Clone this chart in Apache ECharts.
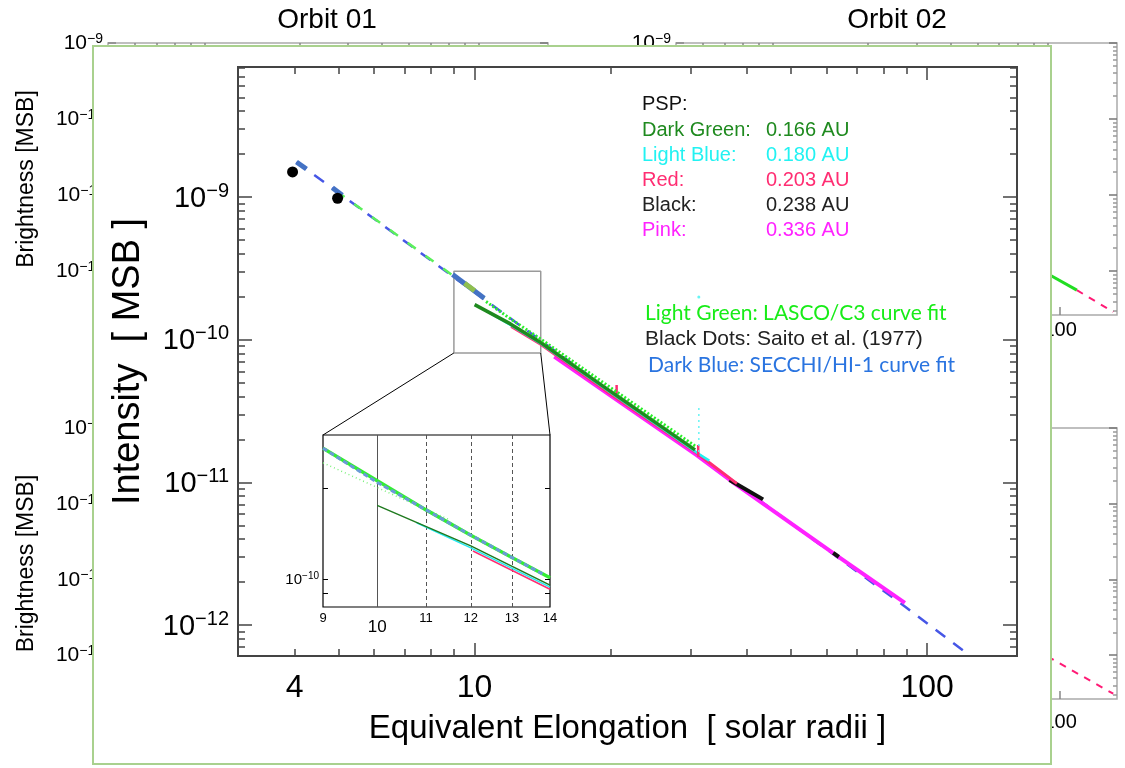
<!DOCTYPE html>
<html><head><meta charset="utf-8">
<script src="https://cdn.jsdelivr.net/npm/echarts@6/dist/echarts.min.js"></script>
<style>html,body{margin:0;padding:0;background:#fff}#c{width:1125px;height:768px}</style>
</head><body><div id="c"></div>
<script>
// ---------------- DATA ----------------
const mainXLabels = [4, 10, 100];
const mainXMajor = [10, 100];
const mainYLabels = [1e-9, 1e-10, 1e-11, 1e-12];
const insetXLabels = [9, 10, 11, 12, 13, 14];
const insetYLabels = [1e-10];
const insetYTicks = [9e-11, 1e-10, 2e-10];
const insetGuideX = [10, 11, 12, 13];
const insetXRange = [9, 14];
const insetYRange = [8.07e-11, 3.02e-10];
const bgXLabels = [100];
const bgYLabels = [1e-9, 1e-10, 1e-11, 1e-12];

const saitoDots   = [[3.96, 1.50e-9], [4.98, 0.98e-9]];
const secchiFit   = [[4.04, 1.76e-9], [10.0, 2.15e-10], [89.3, 1.35e-12], [124.5, 6.1e-13]];
const secchiBold1 = [[4.04, 1.76e-9], [4.25, 1.57e-9]];
const secchiBold2 = [[4.85, 1.16e-9], [5.1, 1.03e-9]];
const secchiBold3 = [[8.94, 2.86e-10], [10.5, 1.95e-10]];
const secchiOlive = [[9.5, 2.49e-10], [10.0, 2.2e-10]];
const lascoFit    = [[4.75, 1.21e-9], [10.5, 1.95e-10]];
const lascoData   = [[10.6, 1.85e-10], [12, 1.40e-10], [14, 1.01e-10], [20, 4.6e-11], [30.7, 1.8e-11]];
const psp0166 = [[10.0, 1.76e-10], [12, 1.29e-10], [14, 9.55e-11], [20, 4.33e-11], [30.7, 1.69e-11]];
const psp0180 = [[10.8, 1.54e-10], [12, 1.27e-10], [14, 9.4e-11], [20, 4.25e-11], [31.3, 1.58e-11], [33, 1.42e-11]];
const psp0203 = [[12.05, 1.24e-10], [14, 9.3e-11], [20, 4.15e-11], [31, 1.6e-11], [38, 9.8e-12]];
const psp0238a = [[36.6, 1.04e-11], [43.4, 7.6e-12]];
const psp0238b = [[62, 3.2e-12], [63.8, 3.0e-12]];
const psp0336 = [[15, 7.6e-11], [19.9, 4.09e-11], [30.9, 1.56e-11], [37.1, 1.01e-11], [62.8, 3.1e-12], [89.3, 1.43e-12]];
const redSpike1 = [[20.6, 4.09e-11], [20.6, 4.82e-11]];
const redSpike2 = [[31.2, 1.51e-11], [31.2, 1.83e-11]];
const cyanStreak = [[31.3, 3.32e-11], [31.3, 1.6e-11]];
const cyanDot = [[31.3, 1.99e-10]];

const insetSecchi = [[9, 2.73e-10], [10, 2.1e-10], [11, 1.7e-10], [12, 1.4e-10], [13, 1.18e-10], [13.8, 1.04e-10]];
const insetLasco  = [[9, 2.73e-10], [11, 1.7e-10], [12, 1.4e-10], [13, 1.18e-10], [14, 1.01e-10]];
const insetLascoFaint = [[9, 2.44e-10], [10.5, 1.85e-10], [11.5, 1.58e-10]];
const inset0166 = [[10, 1.76e-10], [12, 1.29e-10], [14, 9.55e-11]];
const inset0180 = [[10.8, 1.54e-10], [12, 1.27e-10], [14, 9.4e-11]];
const inset0203 = [[12.05, 1.24e-10], [14, 9.25e-11]];

const orbit02Lasco = [[90, 9.2e-13], [115, 5.6e-13]];
const orbit02Fit   = [[115, 5.6e-13], [156, 2.9e-13]];
const orbit02bFit  = [[90, 9.6e-13], [156, 3.1e-13]];

const pspNames = ['Dark Green:', 'Light Blue:', 'Red:', 'Black:', 'Pink:'];
const pspDist  = ['0.166 AU', '0.180 AU', '0.203 AU', '0.238 AU', '0.336 AU'];
const fitNotes = ['Light Green: LASCO/C3 curve fit', 'Black Dots: Saito et al. (1977)', 'Dark Blue: SECCHI/HI-1 curve fit'];

// ---------------- STYLE ----------------
const FONT = '"Liberation Sans", Arial, sans-serif';
const CAL = 'Lato, "Open Sans", sans-serif';
const pspColors = ['#1f8a1f', '#22f2f2', '#ff2d72', '#222222', '#ff22ff'];
const noteStyle = [{c:'#18ec18', f:CAL, dx:0}, {c:'#222', f:FONT, dx:0}, {c:'#2a74e0', f:CAL, dx:3}];

const MAIN_X = [3, 158], MAIN_Y = [6.07e-13, 8.15e-9];
const BG_X = [4, 161], BG_Y = [2.64e-13, 1e-9];

function minorTicks(lo, hi) {
  const out = [];
  for (let e = Math.floor(Math.log10(lo)); e <= Math.ceil(Math.log10(hi)); e++)
    for (let m = 2; m <= 9; m++) { const v = m * Math.pow(10, e); if (v > lo * 1.0001 && v < hi * 0.9999) out.push(v); }
  return out;
}
function majorTicks(lo, hi) {
  const out = [];
  for (let e = Math.floor(Math.log10(lo)); e <= Math.ceil(Math.log10(hi)); e++) { const v = Math.pow(10, e); if (v >= lo * 0.9999 && v <= hi * 1.0001) out.push(v); }
  return out;
}
const supFmt = v => '{b|10}{s|\u2212' + Math.abs(Math.round(Math.log10(v))) + '}';
function supRich(big, small, raise) {
  return { b: {fontSize: big, fontFamily: FONT, color: '#000', verticalAlign: 'bottom'},
           s: {fontSize: small, fontFamily: FONT, color: '#000', verticalAlign: 'bottom', padding: [0, 0, raise, 0]} };
}

const xAxes = [], yAxes = [];
function axis(list, o) {
  const a = {
    type: 'log', logBase: 10, gridIndex: o.grid, min: o.min, max: o.max, position: o.pos, z: o.z || 0,
    axisLine: {show: false}, splitLine: {show: false}, minorTick: {show: false}, silent: true,
    axisTick: o.ticks ? {show: true, inside: true, length: o.len, customValues: o.ticks, lineStyle: {color: o.tc || '#444', width: o.tw || 1.5}} : {show: false},
    axisLabel: o.label ? Object.assign({show: true, customValues: o.labels}, o.label) : {show: false}
  };
  if (o.name) Object.assign(a, o.name);
  list.push(a);
  return list.length - 1;
}

const grids = [
  {left: 238, top: 67, right: 108, bottom: 112, show: true, borderColor: '#444', borderWidth: 2, backgroundColor: 'rgba(0,0,0,0)', z: 3, outerBoundsMode: 'none'},
  {left: 323, top: 435, right: 575, bottom: 161, show: true, borderColor: '#000', borderWidth: 1.2, backgroundColor: '#fff', z: 20, outerBoundsMode: 'none'},
  {left: 108, top: 43, right: 577, bottom: 453},
  {left: 676, top: 43, right: 8, bottom: 453},
  {left: 108, top: 428, right: 577, bottom: 69},
  {left: 676, top: 428, right: 8, bottom: 69}
];
for (let i = 2; i < 6; i++) Object.assign(grids[i], {show: true, borderColor: '#aaa', borderWidth: 1.5, backgroundColor: 'rgba(0,0,0,0)', z: 0, outerBoundsMode: 'none'});

// main axes
const MX = axis(xAxes, {grid: 0, min: MAIN_X[0], max: MAIN_X[1], pos: 'bottom', z: 3, ticks: mainXMajor, len: 13, labels: mainXLabels,
  label: {fontSize: 32, fontFamily: FONT, color: '#000', margin: 16, formatter: v => String(Math.round(v))},
  name: {name: 'Equivalent Elongation  [ solar radii ]', nameLocation: 'middle', nameGap: 56, nameTextStyle: {fontSize: 33, fontFamily: FONT, color: '#000'}}});
axis(xAxes, {grid: 0, min: MAIN_X[0], max: MAIN_X[1], pos: 'bottom', z: 3, ticks: minorTicks(MAIN_X[0], MAIN_X[1]), len: 7});
axis(xAxes, {grid: 0, min: MAIN_X[0], max: MAIN_X[1], pos: 'top', z: 3, ticks: mainXMajor, len: 13});
axis(xAxes, {grid: 0, min: MAIN_X[0], max: MAIN_X[1], pos: 'top', z: 3, ticks: minorTicks(MAIN_X[0], MAIN_X[1]), len: 7});
const MY = axis(yAxes, {grid: 0, min: MAIN_Y[0], max: MAIN_Y[1], pos: 'left', z: 3, ticks: mainYLabels, len: 14, labels: mainYLabels,
  label: {margin: 9, formatter: supFmt, rich: supRich(29, 20, 12)},
  name: {name: 'Intensity  [ MSB ]', nameLocation: 'middle', nameGap: 90, nameRotate: 90, nameTextStyle: {fontSize: 38, fontFamily: FONT, color: '#000'}}});
axis(yAxes, {grid: 0, min: MAIN_Y[0], max: MAIN_Y[1], pos: 'left', z: 3, ticks: minorTicks(MAIN_Y[0], MAIN_Y[1]), len: 7});
axis(yAxes, {grid: 0, min: MAIN_Y[0], max: MAIN_Y[1], pos: 'right', z: 3, ticks: mainYLabels, len: 14});
axis(yAxes, {grid: 0, min: MAIN_Y[0], max: MAIN_Y[1], pos: 'right', z: 3, ticks: minorTicks(MAIN_Y[0], MAIN_Y[1]), len: 7});

// inset axes
const IX = axis(xAxes, {grid: 1, min: insetXRange[0], max: insetXRange[1], pos: 'bottom', z: 21, labels: insetXLabels,
  label: {fontSize: 13, fontFamily: FONT, color: '#000', margin: 5,
    formatter: v => Math.round(v) === 10 ? '{big|10}' : String(Math.round(v)),
    rich: {big: {fontSize: 17, fontFamily: FONT, color: '#000', padding: [7, 0, 0, 0]}}}});
const IY = axis(yAxes, {grid: 1, min: insetYRange[0], max: insetYRange[1], pos: 'left', z: 21, ticks: insetYTicks, len: 5, tc: '#000', tw: 1, labels: insetYLabels,
  label: {margin: 4, formatter: supFmt, rich: supRich(15, 10, 6)}});
axis(yAxes, {grid: 1, min: insetYRange[0], max: insetYRange[1], pos: 'right', z: 21, ticks: insetYTicks, len: 5, tc: '#000', tw: 1});

// background panels
const bgAx = [];
for (let p = 0; p < 4; p++) {
  const g = p + 2, right = (p % 2 === 1), bottomRow = p >= 2;
  const bx = axis(xAxes, {grid: g, min: BG_X[0], max: BG_X[1], pos: 'bottom', z: 0, ticks: majorTicks(BG_X[0], BG_X[1]), len: 8, tc: '#888', labels: bgXLabels,
    label: {fontSize: 20, fontFamily: FONT, color: '#000', margin: bottomRow ? 13 : 5, formatter: v => String(Math.round(v))}});
  axis(xAxes, {grid: g, min: BG_X[0], max: BG_X[1], pos: 'top', z: 0, ticks: minorTicks(BG_X[0], BG_X[1]), len: 4, tc: '#888'});
  const by = axis(yAxes, {grid: g, min: BG_Y[0], max: BG_Y[1], pos: 'left', z: 0, ticks: bgYLabels, len: 8, tc: '#888', labels: bgYLabels,
    label: {margin: 5, formatter: supFmt, rich: supRich(21, 14, 8)},
    name: right ? null : {name: 'Brightness [MSB]', nameLocation: 'middle', nameGap: 70, nameRotate: 90, nameTextStyle: {fontSize: 23, fontFamily: FONT, color: '#000'}}});
  axis(yAxes, {grid: g, min: BG_Y[0], max: BG_Y[1], pos: 'right', z: 0, ticks: bgYLabels, len: 8, tc: '#777'});
  axis(yAxes, {grid: g, min: BG_Y[0], max: BG_Y[1], pos: 'right', z: 0, ticks: minorTicks(BG_Y[0], BG_Y[1]), len: 4, tc: '#999'});
  bgAx.push([bx, by]);
}

// ---------------- SERIES ----------------
const series = [];
function addLine(data, xi, yi, z, ls, extra) {
  series.push(Object.assign({type: 'line', data, xAxisIndex: xi, yAxisIndex: yi, symbol: 'none', silent: true, animation: false, z,
    lineStyle: Object.assign({cap: 'butt', opacity: 1}, ls)}, extra || {}));
}
// main plot
addLine(secchiFit, MX, MY, 4, {color: '#4656e6', width: 2.5, type: [12, 10]});
addLine(lascoFit, MX, MY, 4, {color: '#5cf05c', width: 2.5, type: [10, 12], dashOffset: 12});
[secchiBold1, secchiBold2, secchiBold3].forEach(d => addLine(d, MX, MY, 5, {color: '#4472c4', width: 5}));
addLine(secchiOlive, MX, MY, 6, {color: '#8fbf4f', width: 5});
addLine(psp0336, MX, MY, 5, {color: '#ff22ff', width: 4});
addLine(psp0238a, MX, MY, 6, {color: '#111', width: 4});
addLine(psp0238b, MX, MY, 6, {color: '#111', width: 4});
addLine(psp0203, MX, MY, 6, {color: '#ff2d72', width: 3});
addLine(psp0180, MX, MY, 6, {color: '#22f2f2', width: 2.5});
addLine(psp0166, MX, MY, 7, {color: '#1f8a1f', width: 3.5});
addLine(lascoData, MX, MY, 8, {color: '#2bee2b', width: 3, type: [2, 2]});
addLine(redSpike1, MX, MY, 6, {color: '#ff2d72', width: 2.5});
addLine(redSpike2, MX, MY, 6, {color: '#ff2d72', width: 2.5});
addLine(cyanStreak, MX, MY, 6, {color: '#66f4f4', width: 1.5, type: [2, 4]});
series.push({type: 'scatter', data: cyanDot, xAxisIndex: MX, yAxisIndex: MY, symbolSize: 3, itemStyle: {color: '#66f4f4', opacity: 1}, z: 6, silent: true, animation: false});
series.push({type: 'scatter', data: saitoDots, xAxisIndex: MX, yAxisIndex: MY, symbolSize: 11, itemStyle: {color: '#000', opacity: 1}, z: 9, silent: true, animation: false});
addLine([[insetXRange[0], insetYRange[0]], [insetXRange[1], insetYRange[0]], [insetXRange[1], insetYRange[1]], [insetXRange[0], insetYRange[1]], [insetXRange[0], insetYRange[0]]],
  MX, MY, 4, {color: '#9a9a9a', width: 1.5});

// inset
addLine(inset0166, IX, IY, 23, {color: '#1f7a1f', width: 1.5}, {
  markLine: {silent: true, symbol: 'none', label: {show: false}, animation: false, z: 21,
    data: insetGuideX.map(v => ({xAxis: v, lineStyle: {color: '#555', width: 1, type: v === 10 ? 'solid' : [4, 3]}}))}});
addLine(insetLascoFaint, IX, IY, 22, {color: '#7cf07c', width: 1.5, type: [1, 3]});
addLine(insetLasco, IX, IY, 22, {color: '#33ee33', width: 3.5});
addLine(insetSecchi, IX, IY, 22, {color: '#6a9ad8', width: 3, type: [5, 3]});
addLine(inset0203, IX, IY, 22, {color: '#ff2d72', width: 1.5});
addLine(inset0180, IX, IY, 22, {color: '#22e8f0', width: 1.5});

// background panels (orbit 02 right side)
addLine(orbit02Lasco, bgAx[1][0], bgAx[1][1], 1, {color: '#22dd22', width: 3});
addLine(orbit02Fit, bgAx[1][0], bgAx[1][1], 1, {color: '#ff1a75', width: 2, type: [7, 7]});
addLine(orbit02bFit, bgAx[3][0], bgAx[3][1], 1, {color: '#ff1a75', width: 2, type: [7, 7]});

// ---------------- GRAPHIC TEXT ----------------
const graphics = [
  {id: 'o1', type: 'text', x: 327, y: 20, z: 1, style: {text: 'Orbit 01', font: '28px ' + FONT, fill: '#000', align: 'center', verticalAlign: 'middle'}},
  {id: 'o2', type: 'text', x: 897, y: 20, z: 1, style: {text: 'Orbit 02', font: '28px ' + FONT, fill: '#000', align: 'center', verticalAlign: 'middle'}},
  {id: 'panel', type: 'rect', z: 2, shape: {x: 93, y: 46, width: 958, height: 718}, style: {fill: '#fff', stroke: '#a9d18e', lineWidth: 2}},
  {id: 'psp', type: 'text', x: 642, y: 104, z: 30, style: {text: 'PSP:', font: '20px ' + FONT, fill: '#111', verticalAlign: 'middle'}}
];
pspNames.forEach((n, i) => {
  graphics.push({id: 'pn' + i, type: 'text', x: 642, y: 130 + i * 25, z: 30, style: {text: n, font: '20px ' + FONT, fill: pspColors[i], verticalAlign: 'middle'}});
  graphics.push({id: 'pd' + i, type: 'text', x: 766, y: 130 + i * 25, z: 30, style: {text: pspDist[i], font: '20px ' + FONT, fill: pspColors[i], verticalAlign: 'middle'}});
});
fitNotes.forEach((n, i) => {
  graphics.push({id: 'fn' + i, type: 'text', x: 645 + noteStyle[i].dx, y: 313 + i * 26, z: 30,
    style: {text: n, font: '21px ' + noteStyle[i].f, fill: noteStyle[i].c, verticalAlign: 'middle'}});
});

const chart = echarts.init(document.getElementById('c'), null, {renderer: 'canvas', width: 1125, height: 768});
chart.setOption({
  animation: false, backgroundColor: '#fff',
  grid: grids, xAxis: xAxes, yAxis: yAxes, series, graphic: graphics
});

// zoom connectors from the grey box (main scale) to the inset frame (inset scale)
const a1 = chart.convertToPixel({xAxisIndex: MX, yAxisIndex: MY}, [insetXRange[0], insetYRange[0]]);
const a2 = chart.convertToPixel({xAxisIndex: MX, yAxisIndex: MY}, [insetXRange[1], insetYRange[0]]);
const b1 = chart.convertToPixel({xAxisIndex: IX, yAxisIndex: IY}, [insetXRange[0], insetYRange[1]]);
const b2 = chart.convertToPixel({xAxisIndex: IX, yAxisIndex: IY}, [insetXRange[1], insetYRange[1]]);
chart.setOption({graphic: [
  {id: 'c1', type: 'line', z: 19, shape: {x1: a1[0], y1: a1[1], x2: b1[0], y2: b1[1]}, style: {stroke: '#000', lineWidth: 1}},
  {id: 'c2', type: 'line', z: 19, shape: {x1: a2[0], y1: a2[1], x2: b2[0], y2: b2[1]}, style: {stroke: '#000', lineWidth: 1}}
]});
</script>
</body></html>
